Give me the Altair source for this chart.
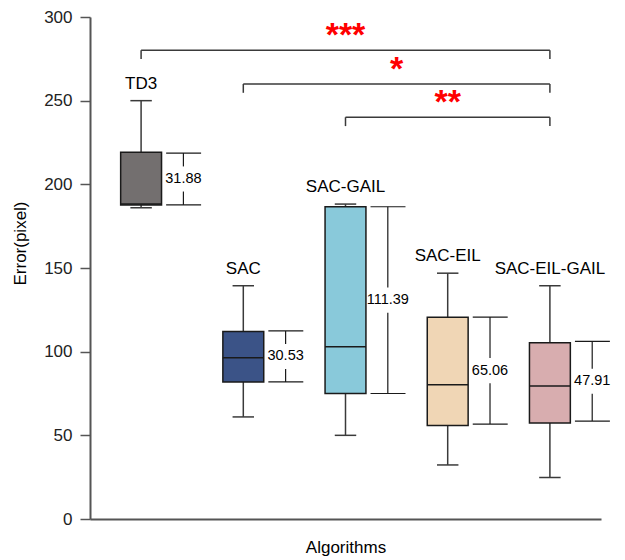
import altair as alt
import pandas as pd

# ---- data ----
algorithms = ["TD3", "SAC", "SAC-GAIL", "SAC-EIL", "SAC-EIL-GAIL"]
whisker_low = [186.0, 61.0, 50.0, 32.3, 24.8]
q1 = [187.6, 81.9, 75.0, 55.9, 57.3]
median = [188.2, 96.4, 102.9, 80.3, 79.5]
q3 = [219.1, 112.0, 186.6, 120.5, 105.3]
whisker_high = [250.0, 139.4, 188.2, 146.9, 139.4]
err_low = [187.7, 81.9, 75.0, 56.7, 58.5]
err_high = [218.7, 112.4, 186.6, 120.7, 106.1]
err_text = ["31.88", "30.53", "111.39", "65.06", "47.91"]
box_colors = ["#736f6f", "#3b5387", "#89c9da", "#f0d6b5", "#d8adaf"]

sig_from = ["TD3", "SAC", "SAC-GAIL"]
sig_to = ["SAC-EIL-GAIL", "SAC-EIL-GAIL", "SAC-EIL-GAIL"]
sig_level = [280.2, 260.0, 240.1]
sig_stars = ["***", "*", "**"]

FONT = "Liberation Sans"
LINE = "#3a3a3a"

# ---- derived tables ----
pos = {a: i for i, a in enumerate(algorithms)}
BOX_HALF = 0.2
CAP_HALF = 0.105
EB_OFF = 0.414
EB_CAP_L, EB_CAP_R = 0.245, 0.587
GAP = 7.5  # half gap (data units) around error label

df = pd.DataFrame({
    "alg": algorithms,
    "pos": range(len(algorithms)),
    "wlo": whisker_low, "q1": q1, "med": median, "q3": q3, "whi": whisker_high,
    "elo": err_low, "ehi": err_high, "etext": err_text, "color": box_colors,
})
df["bl"] = df["pos"] - BOX_HALF
df["br"] = df["pos"] + BOX_HALF
df["cl"] = df["pos"] - CAP_HALF
df["cr"] = df["pos"] + CAP_HALF
df["ex"] = df["pos"] + EB_OFF
df["exl"] = df["pos"] + EB_CAP_L
df["exr"] = df["pos"] + EB_CAP_R
df["emid"] = (df["elo"] + df["ehi"]) / 2
df["gtop"] = df["emid"] + GAP
df["gbot"] = df["emid"] - GAP

caps = pd.concat([
    df[["cl", "cr"]].assign(y=df["wlo"]),
    df[["cl", "cr"]].assign(y=df["whi"]),
])
ecaps = pd.concat([
    df[["exl", "exr"]].assign(y=df["elo"]),
    df[["exl", "exr"]].assign(y=df["ehi"]),
])
esegs = pd.concat([
    pd.DataFrame({"x": df["ex"], "y1": df["gtop"], "y2": df["ehi"]}),
    pd.DataFrame({"x": df["ex"], "y1": df["elo"], "y2": df["gbot"]}),
])

sig = pd.DataFrame({
    "a": [pos[s] for s in sig_from],
    "b": [pos[s] for s in sig_to],
    "lvl": sig_level,
    "stars": sig_stars,
})
sig["mid"] = (sig["a"] + sig["b"]) / 2
sig["tick"] = sig["lvl"] - 5.3
sig_ticks = pd.concat([
    pd.DataFrame({"x": sig["a"], "y1": sig["tick"], "y2": sig["lvl"]}),
    pd.DataFrame({"x": sig["b"], "y1": sig["tick"], "y2": sig["lvl"]}),
])

xs = alt.Scale(domain=[-0.5, 4.5], nice=False, zero=False)
ys = alt.Scale(domain=[0, 300], nice=False)

x_axis = alt.Axis(labels=False, ticks=False, grid=False, title="Algorithms",
                  titleFont=FONT, titleFontSize=17, titleFontWeight="normal",
                  titleColor="black", titlePadding=20, domainColor="#555555",
                  domainWidth=2)
y_axis = alt.Axis(values=[0, 50, 100, 150, 200, 250, 300], grid=False,
                  title="Error(pixel)", titleFont=FONT, titleFontSize=17,
                  titleFontWeight="normal", titleColor="black", titlePadding=14,
                  titleY=226, labelFont=FONT, labelFontSize=17, labelColor="#222222",
                  labelPadding=8, tickSize=10, tickColor="#555555", tickWidth=1.5,
                  domainColor="#555555", domainWidth=2)

base = alt.Chart(df)

whiskers = base.mark_rule(color=LINE, strokeWidth=1.5).encode(
    x=alt.X("pos:Q", scale=xs, axis=x_axis),
    y=alt.Y("wlo:Q", scale=ys, axis=y_axis),
    y2="whi:Q",
)
whisker_caps = alt.Chart(caps).mark_rule(color=LINE, strokeWidth=1.5).encode(
    x=alt.X("cl:Q", scale=xs), x2="cr:Q", y=alt.Y("y:Q", scale=ys)
)
boxes = base.mark_rect(stroke="#1a1a1a", strokeWidth=1.5).encode(
    x=alt.X("bl:Q", scale=xs), x2="br:Q",
    y=alt.Y("q1:Q", scale=ys), y2="q3:Q",
    fill=alt.Fill("color:N", scale=None),
)
medians = base.mark_rule(color="#1a1a1a", strokeWidth=1.5).encode(
    x=alt.X("bl:Q", scale=xs), x2="br:Q", y=alt.Y("med:Q", scale=ys)
)
err_caps = alt.Chart(ecaps).mark_rule(color="#1a1a1a", strokeWidth=1.2).encode(
    x=alt.X("exl:Q", scale=xs), x2="exr:Q", y=alt.Y("y:Q", scale=ys)
)
err_lines = alt.Chart(esegs).mark_rule(color="#1a1a1a", strokeWidth=1.2).encode(
    x=alt.X("x:Q", scale=xs), y=alt.Y("y1:Q", scale=ys), y2="y2:Q"
)
err_labels = base.mark_text(font=FONT, fontSize=14.5, color="black",
                            baseline="middle", align="center").encode(
    x=alt.X("ex:Q", scale=xs), y=alt.Y("emid:Q", scale=ys), text="etext:N"
)
cat_labels = base.mark_text(font=FONT, fontSize=17, color="black",
                            baseline="middle", align="center", dy=-17).encode(
    x=alt.X("pos:Q", scale=xs), y=alt.Y("whi:Q", scale=ys), text="alg:N"
)

sig_base = alt.Chart(sig)
sig_lines = sig_base.mark_rule(color=LINE, strokeWidth=1.5).encode(
    x=alt.X("a:Q", scale=xs), x2="b:Q", y=alt.Y("lvl:Q", scale=ys)
)
sig_tick_marks = alt.Chart(sig_ticks).mark_rule(color=LINE, strokeWidth=1.5).encode(
    x=alt.X("x:Q", scale=xs), y=alt.Y("y1:Q", scale=ys), y2="y2:Q"
)
sig_text = sig_base.mark_text(font=FONT, fontSize=34, fontWeight="bold",
                              color="#ff0000", baseline="alphabetic",
                              align="center", dy=-4).encode(
    x=alt.X("mid:Q", scale=xs), y=alt.Y("lvl:Q", scale=ys), text="stars:N"
)

chart = alt.layer(
    whiskers, whisker_caps, boxes, medians, err_caps, err_lines, err_labels,
    cat_labels, sig_lines, sig_tick_marks, sig_text,
).properties(
    width=511, height=502,
    autosize=alt.AutoSizeParams(type="none"),
    padding={"left": 82, "top": 9, "right": 16, "bottom": 38},
).configure_view(stroke=None)

chart.save("out.html", embed_options={"renderer": "svg", "actions": False})
